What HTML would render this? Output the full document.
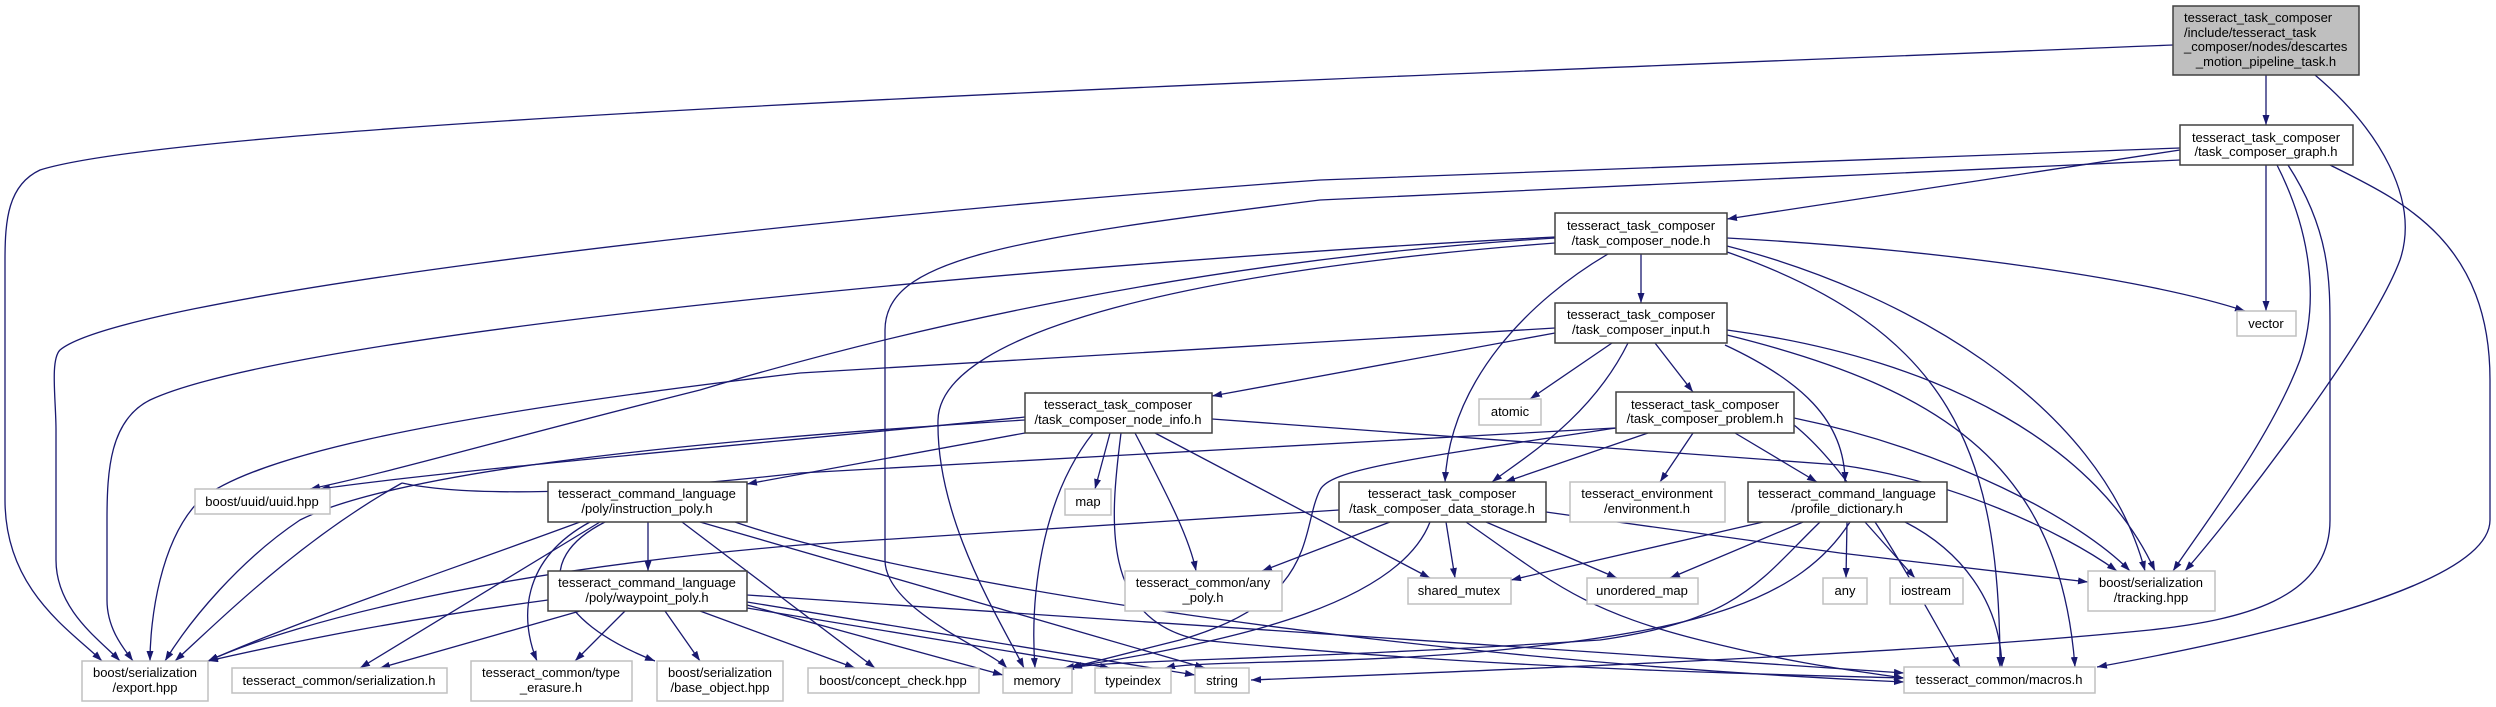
<!DOCTYPE html>
<html><head><meta charset="utf-8"><style>
html,body{margin:0;padding:0;background:#fff;}
svg{display:block;}
text{font-family:"Liberation Sans",Arial,sans-serif;font-size:13px;fill:#000;}
.e{fill:none;stroke:#191970;stroke-width:1.3;marker-end:url(#a);}
.d{fill:#fff;stroke:#404040;stroke-width:1.5;}
.g{fill:#fff;stroke:#c0c0c0;stroke-width:1.5;}
</style></head><body>
<svg width="2496" height="707" viewBox="0 0 2496 707" xmlns="http://www.w3.org/2000/svg">
<defs><marker id="a" viewBox="0 0 10 7" markerWidth="10" markerHeight="7" refX="10" refY="3.5" orient="auto" markerUnits="userSpaceOnUse"><path d="M0,0 L10,3.5 L0,7 z" fill="#191970"/></marker></defs>

<!-- root edges -->
<path class="e" d="M2266,75 L2266,125"/>
<path class="e" d="M2173,45 C1300,80 200,120 40,170 C8,185 5,220 5,260 L5,500 C5,590 70,630 102,661"/>
<path class="e" d="M2315,75 C2380,130 2420,200 2400,260 C2370,340 2230,520 2185,571"/>
<!-- graph edges -->
<path class="e" d="M2180,150 L1727,219"/>
<path class="e" d="M2266,165 L2266,311"/>
<path class="e" d="M2277,165 C2310,230 2320,300 2300,360 C2270,440 2200,530 2173,571"/>
<path class="e" d="M2330,165 C2400,200 2490,240 2490,380 L2490,520 C2490,580 2300,630 2097,667"/>
<path class="e" d="M2288,165 C2330,230 2330,280 2330,330 L2330,520 C2330,600 2240,620 2150,630 C1900,655 1500,670 1251,680"/>
<path class="e" d="M2180,148 L1320,180 C700,225 120,300 60,350 C50,360 56,400 56,430 L56,560 C56,610 100,640 120,661"/>
<path class="e" d="M2180,160 L1320,200 C1000,240 885,260 885,330 L885,560 C885,610 990,650 1007,668"/>
<!-- node.h edges -->
<path class="e" d="M1641,254 L1641,303"/>
<path class="e" d="M1608,254 C1530,300 1450,380 1445,482"/>
<path class="e" d="M1555,237 C1100,260 300,330 150,400 C110,420 107,470 107,520 L107,600 C107,630 125,650 133,661"/>
<path class="e" d="M1555,238 C1200,260 900,330 700,390 C500,440 400,470 310,489"/>
<path class="e" d="M1555,243 C1200,270 940,330 938,420 C936,520 1000,620 1024,668"/>
<path class="e" d="M1727,238 C1950,250 2150,280 2245,311"/>
<path class="e" d="M1727,246 C1900,290 2100,400 2145,571"/>
<path class="e" d="M1727,252 C1950,330 2000,450 2000,667"/>
<!-- input.h edges -->
<path class="e" d="M1555,333 L1212,396"/>
<path class="e" d="M1612,343 L1530,399"/>
<path class="e" d="M1655,343 L1693,392"/>
<path class="e" d="M1628,343 C1590,420 1520,460 1492,482"/>
<path class="e" d="M1725,345 C1800,380 1845,420 1845,482"/>
<path class="e" d="M1555,328 L800,373 C400,420 250,460 200,500 C160,540 150,620 150,661"/>
<path class="e" d="M1727,330 C1950,360 2100,450 2155,571"/>
<path class="e" d="M1727,335 C1950,390 2060,470 2075,667"/>
<!-- node_info edges -->
<path class="e" d="M1025,417 C800,440 450,470 320,489"/>
<path class="e" d="M1025,420 C700,440 400,470 300,520 C240,560 190,620 165,661"/>
<path class="e" d="M1025,433 L747,484"/>
<path class="e" d="M1110,433 L1095,489"/>
<path class="e" d="M1093,433 C1040,500 1030,600 1035,668"/>
<path class="e" d="M1135,433 C1170,500 1190,540 1196,571"/>
<path class="e" d="M1155,433 L1430,578"/>
<path class="e" d="M1212,419 L1840,465 C1950,480 2060,530 2117,571"/>
<path class="e" d="M1121,433 C1110,520 1100,620 1200,640 C1500,670 1800,675 1904,678"/>
<!-- problem edges -->
<path class="e" d="M1648,433 L1505,482"/>
<path class="e" d="M1693,433 L1660,482"/>
<path class="e" d="M1735,433 L1817,482"/>
<path class="e" d="M1794,418 C1950,450 2080,520 2130,571"/>
<path class="e" d="M1794,425 C1850,470 1900,560 1960,667"/>
<path class="e" d="M1616,428 C1400,460 1330,470 1320,490 C1300,530 1320,600 1180,640 C1100,660 1080,665 1070,668"/>
<path class="e" d="M1615,428 L800,473 C650,490 480,500 402,483 M402,483 C300,540 220,620 175,661"/>
<!-- data_storage edges -->
<path class="e" d="M1339,510 L800,545 C500,570 300,620 208,661"/>
<path class="e" d="M1390,522 L1262,571"/>
<path class="e" d="M1446,522 L1455,578"/>
<path class="e" d="M1486,522 L1617,578"/>
<path class="e" d="M1430,522 C1400,600 1250,640 1064,668"/>
<path class="e" d="M1466,522 C1550,580 1580,610 1700,640 C1800,665 1850,670 1904,678"/>
<path class="e" d="M1546,512 L1840,553 L2088,582"/>
<!-- profile_dictionary edges -->
<path class="e" d="M1763,522 L1511,580"/>
<path class="e" d="M1803,522 L1670,578"/>
<path class="e" d="M1847,522 L1846,578"/>
<path class="e" d="M1865,522 L1915,578"/>
<path class="e" d="M1905,522 C1960,550 2000,600 2002,667"/>
<path class="e" d="M1820,522 C1760,580 1740,620 1600,640 C1300,660 1100,660 1072,668"/>
<path class="e" d="M1850,522 C1800,600 1700,630 1500,650 C1350,665 1200,660 1165,668"/>
<!-- instruction_poly edges -->
<path class="e" d="M648,522 L648,571"/>
<path class="e" d="M580,522 C450,570 300,620 208,661"/>
<path class="e" d="M600,522 L360,668"/>
<path class="e" d="M590,522 C520,560 520,620 537,661"/>
<path class="e" d="M605,522 C530,560 550,620 655,661"/>
<path class="e" d="M682,522 L875,668"/>
<path class="e" d="M735,522 C900,580 1400,660 1904,682"/>
<path class="e" d="M700,522 L1205,668"/>
<!-- waypoint_poly edges -->
<path class="e" d="M548,600 C400,620 300,640 208,661"/>
<path class="e" d="M580,611 L380,668"/>
<path class="e" d="M625,611 L575,661"/>
<path class="e" d="M665,611 L700,661"/>
<path class="e" d="M700,611 L855,668"/>
<path class="e" d="M747,605 L1003,675"/>
<path class="e" d="M747,608 L1110,668"/>
<path class="e" d="M747,602 L1195,675"/>
<path class="e" d="M747,595 L1904,673"/>

<!-- nodes -->
<rect x="2173" y="6" width="186" height="69" fill="#bfbfbf" stroke="#404040" stroke-width="1.5"/>
<text x="2184" y="22">tesseract_task_composer</text>
<text x="2184" y="37">/include/tesseract_task</text>
<text x="2184" y="51">_composer/nodes/descartes</text>
<text x="2266" y="66" text-anchor="middle">_motion_pipeline_task.h</text>

<g text-anchor="middle">
<rect class="d" x="2180" y="125" width="173" height="40"/><text x="2266" y="142">tesseract_task_composer</text><text x="2266" y="156">/task_composer_graph.h</text>
<rect class="g" x="2237" y="311" width="59" height="25"/><text x="2266" y="328">vector</text>
<rect class="d" x="1555" y="213" width="172" height="41"/><text x="1641" y="230">tesseract_task_composer</text><text x="1641" y="245">/task_composer_node.h</text>
<rect class="d" x="1555" y="303" width="172" height="40"/><text x="1641" y="319">tesseract_task_composer</text><text x="1641" y="334">/task_composer_input.h</text>
<rect class="g" x="1479" y="399" width="62" height="26"/><text x="1510" y="416">atomic</text>
<rect class="d" x="1616" y="392" width="178" height="41"/><text x="1705" y="409">tesseract_task_composer</text><text x="1705" y="423">/task_composer_problem.h</text>
<rect class="d" x="1339" y="482" width="207" height="40"/><text x="1442" y="498">tesseract_task_composer</text><text x="1442" y="513">/task_composer_data_storage.h</text>
<rect class="g" x="1570" y="482" width="155" height="40"/><text x="1647" y="498">tesseract_environment</text><text x="1647" y="513">/environment.h</text>
<rect class="d" x="1748" y="482" width="199" height="40"/><text x="1847" y="498">tesseract_command_language</text><text x="1847" y="513">/profile_dictionary.h</text>
<rect class="g" x="1408" y="578" width="103" height="26"/><text x="1459" y="595">shared_mutex</text>
<rect class="g" x="1587" y="578" width="111" height="26"/><text x="1642" y="595">unordered_map</text>
<rect class="g" x="1823" y="578" width="44" height="26"/><text x="1845" y="595">any</text>
<rect class="g" x="1890" y="578" width="73" height="26"/><text x="1926" y="595">iostream</text>
<rect class="g" x="2088" y="571" width="127" height="40"/><text x="2151" y="587">boost/serialization</text><text x="2151" y="602">/tracking.hpp</text>
<rect class="g" x="1904" y="667" width="191" height="26"/><text x="1999" y="684">tesseract_common/macros.h</text>
<rect class="d" x="1025" y="393" width="187" height="40"/><text x="1118" y="409">tesseract_task_composer</text><text x="1118" y="424">/task_composer_node_info.h</text>
<rect class="g" x="1065" y="489" width="46" height="26"/><text x="1088" y="506">map</text>
<rect class="g" x="1125" y="571" width="157" height="40"/><text x="1203" y="587">tesseract_common/any</text><text x="1203" y="602">_poly.h</text>
<rect class="g" x="808" y="668" width="171" height="25"/><text x="893" y="685">boost/concept_check.hpp</text>
<rect class="g" x="1003" y="668" width="69" height="25"/><text x="1037" y="685">memory</text>
<rect class="g" x="1095" y="668" width="76" height="25"/><text x="1133" y="685">typeindex</text>
<rect class="g" x="1195" y="668" width="54" height="25"/><text x="1222" y="685">string</text>
<rect class="g" x="195" y="489" width="135" height="25"/><text x="262" y="506">boost/uuid/uuid.hpp</text>
<rect class="d" x="548" y="482" width="199" height="40"/><text x="647" y="498">tesseract_command_language</text><text x="647" y="513">/poly/instruction_poly.h</text>
<rect class="d" x="548" y="571" width="199" height="40"/><text x="647" y="587">tesseract_command_language</text><text x="647" y="602">/poly/waypoint_poly.h</text>
<rect class="g" x="82" y="661" width="126" height="40"/><text x="145" y="677">boost/serialization</text><text x="145" y="692">/export.hpp</text>
<rect class="g" x="232" y="668" width="215" height="25"/><text x="339" y="685">tesseract_common/serialization.h</text>
<rect class="g" x="471" y="661" width="161" height="40"/><text x="551" y="677">tesseract_common/type</text><text x="551" y="692">_erasure.h</text>
<rect class="g" x="657" y="661" width="126" height="40"/><text x="720" y="677">boost/serialization</text><text x="720" y="692">/base_object.hpp</text>
</g>
</svg>
</body></html>
